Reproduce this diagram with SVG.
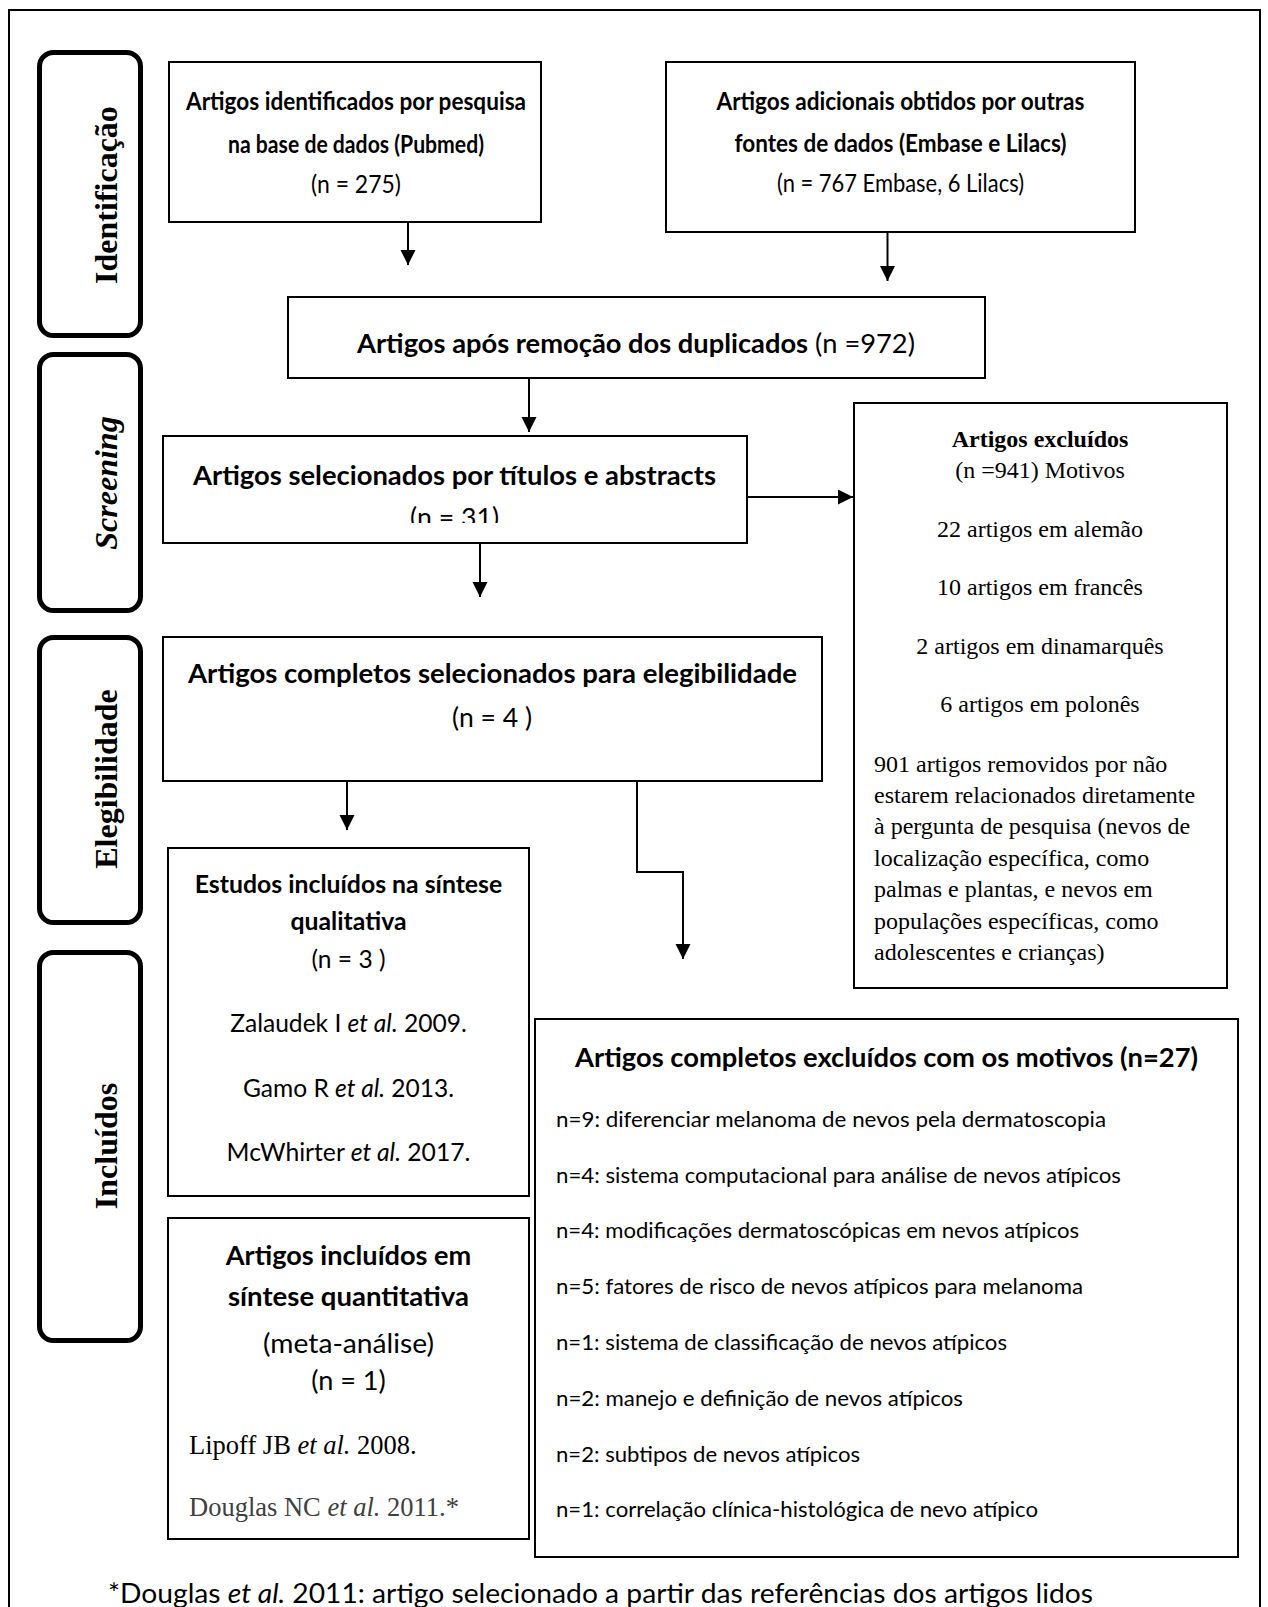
<svg xmlns="http://www.w3.org/2000/svg" width="1268" height="1607" viewBox="0 0 1268 1607">
<style>
  .frame{fill:none;stroke:#000;stroke-width:2}
  .box{fill:#fff;stroke:#000;stroke-width:2}
  .lab{fill:#fff;stroke:#000;stroke-width:5}
  .conn{fill:none;stroke:#000;stroke-width:2}
  text{fill:#000}
  .cb{font-family:Lato,"Liberation Sans",sans-serif;font-weight:bold;font-size:26.7px}
  .cr{font-family:Lato,"Liberation Sans",sans-serif;font-size:26.7px}
  .tb{font-family:Lato,"Liberation Sans",sans-serif;font-weight:bold;font-size:24.5px}
  .tr{font-family:Lato,"Liberation Sans",sans-serif;font-size:24.5px}
  .cs{font-family:Lato,"Liberation Sans",sans-serif;font-size:24.2px}
  .csb{font-family:Lato,"Liberation Sans",sans-serif;font-weight:bold;font-size:24.2px}
  .cl{font-family:Lato,"Liberation Sans",sans-serif;font-size:21.5px}
  .fn{font-family:Lato,"Liberation Sans",sans-serif;font-size:27.4px}
  .tm{font-family:"Liberation Serif","Times New Roman",serif;font-size:24px}
  .tmb{font-family:"Liberation Serif","Times New Roman",serif;font-size:24px;font-weight:bold}
  .tl{font-family:"Liberation Serif","Times New Roman",serif;font-size:26.5px}
  .lbl{font-family:"Liberation Serif","Times New Roman",serif;font-size:32px;font-weight:bold}
  .it{font-style:italic}
  .mid{text-anchor:middle}
</style>
<defs>
  <marker id="ah" markerUnits="userSpaceOnUse" markerWidth="16" markerHeight="16" viewBox="0 0 16 16" refX="15" refY="7.5" orient="auto">
    <path d="M0,0 L15,7.5 L0,15 z" fill="#000"/>
  </marker>
  <clipPath id="clip31"><rect x="150" y="440" width="600" height="83"/></clipPath>
</defs>

<rect class="frame" x="9" y="10" width="1251" height="1620"/>

<g id="label-identificacao">
  <rect class="lab" x="39.5" y="52.5" width="101" height="283" rx="14"/>
  <text class="lbl mid" transform="translate(117,195) rotate(-90)">Identificação</text>
</g>
<g id="label-screening">
  <rect class="lab" x="39.5" y="354.5" width="101" height="256" rx="14"/>
  <text class="lbl mid it" transform="translate(117,483) rotate(-90)">Screening</text>
</g>
<g id="label-elegibilidade">
  <rect class="lab" x="39.5" y="637.5" width="101" height="285" rx="14"/>
  <text class="lbl mid" transform="translate(117,779) rotate(-90)">Elegibilidade</text>
</g>
<g id="label-incluidos">
  <rect class="lab" x="39.5" y="952.5" width="101" height="388" rx="14"/>
  <text class="lbl mid" transform="translate(117,1146) rotate(-90)">Incluídos</text>
</g>

<g id="node-pubmed">
  <rect class="box" x="169" y="62" width="372" height="160"/>
  <text class="tb mid" x="356" y="110" textLength="340" lengthAdjust="spacingAndGlyphs">Artigos identificados por pesquisa</text>
  <text class="tb mid" x="356" y="153" textLength="256" lengthAdjust="spacingAndGlyphs">na base de dados (Pubmed)</text>
  <text class="tr mid" x="356" y="193" textLength="90" lengthAdjust="spacingAndGlyphs">(n = 275)</text>
</g>

<g id="node-outras">
  <rect class="box" x="666" y="62" width="469" height="170"/>
  <text class="tb mid" x="900.5" y="110" textLength="368" lengthAdjust="spacingAndGlyphs">Artigos adicionais obtidos por outras</text>
  <text class="tb mid" x="900.5" y="152" textLength="332" lengthAdjust="spacingAndGlyphs">fontes de dados (Embase e Lilacs)</text>
  <text class="tr mid" x="900.5" y="192" textLength="247" lengthAdjust="spacingAndGlyphs">(n = 767 Embase, 6 Lilacs)</text>
</g>

<g id="node-duplicados">
  <rect class="box" x="288" y="297" width="697" height="81"/>
  <text class="cb" x="357" y="353" textLength="558" lengthAdjust="spacingAndGlyphs">Artigos após remoção dos duplicados<tspan font-weight="normal"> (n =972)</tspan></text>
</g>

<g id="node-screening">
  <rect class="box" x="163" y="436" width="584" height="107"/>
  <text class="cb mid" x="454.5" y="485" textLength="523" lengthAdjust="spacingAndGlyphs">Artigos selecionados por títulos e abstracts</text>
  <text class="cr mid" x="454.5" y="527" textLength="89" lengthAdjust="spacingAndGlyphs" clip-path="url(#clip31)">(n = 31)</text>
</g>

<g id="node-excluidos">
  <rect class="box" x="854" y="403" width="373" height="585"/>
  <text class="tmb mid" x="1040" y="447">Artigos excluídos</text>
  <text class="tm mid" x="1040" y="478">(n =941) Motivos</text>
  <text class="tm mid" x="1040" y="537">22 artigos em alemão</text>
  <text class="tm mid" x="1040" y="595">10 artigos em francês</text>
  <text class="tm mid" x="1040" y="654">2 artigos em dinamarquês</text>
  <text class="tm mid" x="1040" y="712">6 artigos em polonês</text>
  <text class="tm" x="874" y="772">901 artigos removidos por não</text>
  <text class="tm" x="874" y="803">estarem relacionados diretamente</text>
  <text class="tm" x="874" y="834">à pergunta de pesquisa (nevos de</text>
  <text class="tm" x="874" y="865.5">localização específica, como</text>
  <text class="tm" x="874" y="897">palmas e plantas, e nevos em</text>
  <text class="tm" x="874" y="928.5">populações específicas, como</text>
  <text class="tm" x="874" y="960">adolescentes e crianças)</text>
</g>

<g id="node-elegibilidade">
  <rect class="box" x="163" y="637" width="659" height="144"/>
  <text class="cb mid" x="492.5" y="683" textLength="609" lengthAdjust="spacingAndGlyphs">Artigos completos selecionados para elegibilidade</text>
  <text class="cr mid" x="492" y="727" textLength="80" lengthAdjust="spacingAndGlyphs">(n = 4 )</text>
</g>

<g id="node-qualitativa">
  <rect class="box" x="168" y="848" width="361" height="348"/>
  <text class="csb mid" x="348.5" y="893" textLength="307.5" lengthAdjust="spacingAndGlyphs">Estudos incluídos na síntese</text>
  <text class="csb mid" x="348.5" y="930" textLength="116" lengthAdjust="spacingAndGlyphs">qualitativa</text>
  <text class="cs mid" x="348.5" y="968" textLength="74" lengthAdjust="spacingAndGlyphs">(n = 3 )</text>
  <text class="cs mid" x="348.5" y="1032" textLength="236.6" lengthAdjust="spacingAndGlyphs">Zalaudek I <tspan class="it">et al.</tspan> 2009.</text>
  <text class="cs mid" x="348.5" y="1097" textLength="211" lengthAdjust="spacingAndGlyphs">Gamo R <tspan class="it">et al.</tspan> 2013.</text>
  <text class="cs mid" x="348.5" y="1161" textLength="243.8" lengthAdjust="spacingAndGlyphs">McWhirter <tspan class="it">et al.</tspan> 2017.</text>
</g>

<g id="node-quantitativa">
  <rect class="box" x="168" y="1218" width="361" height="321"/>
  <text class="cb mid" x="348.5" y="1265" textLength="245.5" lengthAdjust="spacingAndGlyphs">Artigos incluídos em</text>
  <text class="cb mid" x="348.5" y="1306" textLength="241" lengthAdjust="spacingAndGlyphs">síntese quantitativa</text>
  <text class="cr mid" x="348.5" y="1353" textLength="171" lengthAdjust="spacingAndGlyphs">(meta-análise)</text>
  <text class="cr mid" x="348.5" y="1390" textLength="74.7" lengthAdjust="spacingAndGlyphs">(n = 1)</text>
  <text class="tl" x="189" y="1454">Lipoff JB <tspan class="it">et al.</tspan> 2008.</text>
  <text class="tl" x="189" y="1516" style="fill:#404040">Douglas NC <tspan class="it">et al.</tspan> 2011.*</text>
</g>

<g id="node-completos-excluidos">
  <rect class="box" x="535" y="1019" width="703" height="538"/>
  <text class="cb" x="575" y="1067" textLength="623" lengthAdjust="spacingAndGlyphs">Artigos completos excluídos com os motivos (n=27)</text>
  <text class="cl" x="556" y="1127" textLength="550" lengthAdjust="spacingAndGlyphs">n=9: diferenciar melanoma de nevos pela dermatoscopia</text>
  <text class="cl" x="556" y="1183" textLength="565" lengthAdjust="spacingAndGlyphs">n=4: sistema computacional para análise de nevos atípicos</text>
  <text class="cl" x="556" y="1238" textLength="523" lengthAdjust="spacingAndGlyphs">n=4: modificações dermatoscópicas em nevos atípicos</text>
  <text class="cl" x="556" y="1294" textLength="527" lengthAdjust="spacingAndGlyphs">n=5: fatores de risco de nevos atípicos para melanoma</text>
  <text class="cl" x="556" y="1350" textLength="451" lengthAdjust="spacingAndGlyphs">n=1: sistema de classificação de nevos atípicos</text>
  <text class="cl" x="556" y="1406" textLength="407" lengthAdjust="spacingAndGlyphs">n=2: manejo e definição de nevos atípicos</text>
  <text class="cl" x="556" y="1462" textLength="304" lengthAdjust="spacingAndGlyphs">n=2: subtipos de nevos atípicos</text>
  <text class="cl" x="556" y="1517" textLength="482" lengthAdjust="spacingAndGlyphs">n=1: correlação clínica-histológica de nevo atípico</text>
</g>

<g id="connectors">
  <line class="conn" x1="408" y1="222" x2="408" y2="265" marker-end="url(#ah)"/>
  <line class="conn" x1="887.5" y1="232" x2="887.5" y2="281" marker-end="url(#ah)"/>
  <line class="conn" x1="529" y1="378" x2="529" y2="432" marker-end="url(#ah)"/>
  <line class="conn" x1="747" y1="497" x2="853" y2="497" marker-end="url(#ah)"/>
  <line class="conn" x1="480" y1="543" x2="480" y2="597" marker-end="url(#ah)"/>
  <line class="conn" x1="347" y1="781" x2="347" y2="830" marker-end="url(#ah)"/>
  <polyline class="conn" points="637,781 637,872 683,872 683,959" marker-end="url(#ah)"/>
</g>

<text id="footnote" class="fn" x="108" y="1603" textLength="985" lengthAdjust="spacingAndGlyphs">*Douglas <tspan class="it">et al.</tspan> 2011: artigo selecionado a partir das referências dos artigos lidos</text>
</svg>
